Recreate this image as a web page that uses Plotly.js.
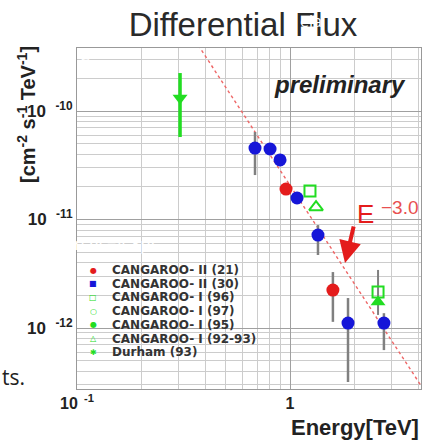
<!DOCTYPE html>
<html>
<head>
<meta charset="utf-8">
<script src="https://cdn.plot.ly/plotly-3.0.1.min.js"></script>
<style>html,body{margin:0;padding:0;background:#fff;}#chart{width:424px;height:443px;}</style>
</head>
<body>
<div id="chart"></div>
<script>
// ---- data ----
const fitE = [0.3, 5.0];
const fitF = [7.63e-10, 1.65e-13];

const c2_21_E   = [0.958, 1.59];
const c2_21_F   = [1.91e-11, 2.24e-12];
const c2_21_Fhi = [2.02e-11, 3.28e-12];
const c2_21_Flo = [1.80e-11, 1.14e-12];

const c2_30_E   = [0.685, 0.806, 0.898, 1.079, 1.353, 1.872, 2.76];
const c2_30_F   = [4.56e-11, 4.47e-11, 3.54e-11, 1.58e-11, 7.19e-12, 1.11e-12, 1.11e-12];
const c2_30_Fhi = [6.40e-11, 4.70e-11, 3.70e-11, 1.65e-11, 8.89e-12, 1.89e-12, 1.37e-12];
const c2_30_Flo = [2.57e-11, 4.25e-11, 3.38e-11, 1.50e-11, 4.71e-12, 3.18e-13, 6.26e-13];

const c1_96_E = [1.241];  const c1_96_F = [1.83e-11];
const c1_97_E = [2.59];   const c1_97_F = [2.15e-12];
const c1_95_E = [2.59];   const c1_95_F = [1.74e-12];
const c1_95_Fhi = [3.43e-12]; const c1_95_Flo = [1.32e-12];
const c1_9293_E = [1.325]; const c1_9293_F = [1.30e-11];

const durham_E = [0.3046];
const durham_F = [1.32e-10];
const durham_Fhi = [2.24e-10];
const durham_Flo = [5.76e-11];

const legendLabels = ["CANGAROO- II (21)", "CANGAROO- II (30)", "CANGAROO- I (96)", "CANGAROO- I (97)", "CANGAROO- I (95)", "CANGAROO- I (92-93)", "Durham (93)"];
const legendGlyphs = ["\u25CF", "\u25A0", "\u25A1", "\u25CB", "\u25CF", "\u25B3", "\u2731"];

const xTickVals = [0.1, 1];
const xTickText = ["<b>10</b><sup><b>  -1</b></sup>", "<b>1</b>"];
const yTickVals = [1e-12, 1e-11, 1e-10];
const yTickText = ["<b>10  </b><sup><b>-12</b></sup>", "<b>10  </b><sup><b>-11</b></sup>", "<b>10  </b><sup><b>-10</b></sup>"];

// ---- styles ----
const RED = "#e41c1c", BLUE = "#1616d8", GREEN = "#22dd22", ERR = "#808080";
const legendColors = [RED, BLUE, GREEN, GREEN, GREEN, GREEN, GREEN];
const FONT = "Liberation Sans, Arial, sans-serif";

function up(v, hi){ return hi.map((h,i)=>h - v[i]); }
function dn(v, lo){ return lo.map((l,i)=>v[i] - l); }

const traces = [
  {x: fitE, y: fitF, mode: "lines", line: {color: "#e66", width: 1.4, dash: "dot"}, name: "E^-3.0", hoverinfo: "skip"},
  {x: durham_E, y: durham_F, mode: "markers", name: "Durham (93)",
   marker: {symbol: "triangle-down", size: 13, color: GREEN},
   error_y: {type: "data", symmetric: false, array: up(durham_F, durham_Fhi), arrayminus: dn(durham_F, durham_Flo), color: GREEN, thickness: 3.5, width: 0}},
  {x: c2_30_E, y: c2_30_F, mode: "markers", name: "CANGAROO- II (30)",
   marker: {symbol: "circle", size: 13, color: BLUE},
   error_y: {type: "data", symmetric: false, array: up(c2_30_F, c2_30_Fhi), arrayminus: dn(c2_30_F, c2_30_Flo), color: ERR, thickness: 2.5, width: 0}},
  {x: c2_21_E, y: c2_21_F, mode: "markers", name: "CANGAROO- II (21)",
   marker: {symbol: "circle", size: 13, color: RED},
   error_y: {type: "data", symmetric: false, array: up(c2_21_F, c2_21_Fhi), arrayminus: dn(c2_21_F, c2_21_Flo), color: ERR, thickness: 2.5, width: 0}},
  {x: c1_96_E, y: c1_96_F, mode: "markers", name: "CANGAROO- I (96)",
   marker: {symbol: "square-open", size: 11, color: GREEN, line: {width: 2}}},
  {x: c1_9293_E, y: c1_9293_F, mode: "markers", name: "CANGAROO- I (92-93)",
   marker: {symbol: "triangle-up-open", size: 12, color: GREEN, line: {width: 2}}},
  {x: c1_95_E, y: c1_95_F, mode: "markers", name: "CANGAROO- I (95)",
   marker: {symbol: "triangle-up", size: 13, color: GREEN},
   error_y: {type: "data", symmetric: false, array: up(c1_95_F, c1_95_Fhi), arrayminus: dn(c1_95_F, c1_95_Flo), color: ERR, thickness: 2, width: 0}},
  {x: c1_97_E, y: c1_97_F, mode: "markers", name: "CANGAROO- I (97)",
   marker: {symbol: "square-open", size: 11, color: GREEN, line: {width: 2}}}
];

// plot area in pixels: left 77, right 421, top 48, bottom 389
const L = 77, R = 421, T = 48, B = 389;
function px(x){ return (x - L) / (R - L); }
function py(y){ return (B - y) / (B - T); }

const annotations = [];
legendLabels.forEach((lab, i) => {
  const yy = 270 + i * 13.7;
  annotations.push({xref: "paper", yref: "paper", x: px(93), y: py(yy), text: legendGlyphs[i], showarrow: false,
    font: {family: "DejaVu Sans", size: 8, color: legendColors[i]}, xanchor: "center", yanchor: "middle"});
  annotations.push({xref: "paper", yref: "paper", x: px(110), y: py(yy), text: "<b>" + lab + "</b>", showarrow: false,
    font: {family: "DejaVu Sans", size: 12, color: "#333"}, xanchor: "left", yanchor: "middle"});
});

annotations.push(
  {xref: "paper", yref: "paper", x: px(340), y: py(84), text: "<b><i>preliminary</i></b>", showarrow: false,
   font: {family: FONT, size: 24, color: "#222"}, xanchor: "center", yanchor: "middle"},
  {xref: "paper", yref: "paper", x: px(365), y: py(214), text: "E", showarrow: false,
   font: {family: FONT, size: 26, color: RED}, xanchor: "center", yanchor: "middle"},
  {xref: "paper", yref: "paper", x: px(400), y: py(207), text: "\u22123.0", showarrow: false,
   font: {family: FONT, size: 19, color: "#e85050"}, xanchor: "center", yanchor: "middle"},
  {xref: "paper", yref: "paper", x: px(345), y: py(263), ax: px(354), ay: py(225), axref: "paper", ayref: "paper",
   text: "", showarrow: true, arrowhead: 2, arrowsize: 1.1, arrowwidth: 4, arrowcolor: RED},
  {xref: "paper", yref: "paper", x: px(26), y: py(114), text: "<b>[cm<sup>-2</sup> s<sup>-1</sup> TeV<sup>-1</sup>]</b>", textangle: -90, showarrow: false,
   font: {family: FONT, size: 20, color: "#222"}, xanchor: "center", yanchor: "middle"},
  {xref: "paper", yref: "paper", x: px(421), y: py(428), text: "<b>Energy[TeV]</b>", showarrow: false,
   font: {family: FONT, size: 22, color: "#222"}, xanchor: "right", yanchor: "middle"},
  {xref: "paper", yref: "paper", x: px(0), y: py(377), text: "ts.", showarrow: false,
   font: {family: "Open Sans", size: 21, color: "#222"}, xanchor: "left", yanchor: "middle"},
  {xref: "paper", yref: "paper", x: px(72), y: py(244), text: "rsec=4.3pc", showarrow: false,
   font: {family: "Open Sans", size: 17, color: "#ffffff"}, xanchor: "left", yanchor: "middle"},
  {xref: "paper", yref: "paper", x: px(303), y: py(53), text: "Vela", showarrow: false,
   font: {family: "Open Sans", size: 15, color: "#ffffff"}, xanchor: "left", yanchor: "middle"},
  {xref: "paper", yref: "paper", x: px(298), y: py(21), text: "ela", showarrow: false,
   font: {family: "Open Sans", size: 16, color: "#ffffff"}, xanchor: "left", yanchor: "middle"},
  {xref: "paper", yref: "paper", x: px(77), y: py(64), text: "Gre", showarrow: false,
   font: {family: "Open Sans", size: 16, color: "#ffffff"}, xanchor: "left", yanchor: "middle"}
);

const layout = {
  width: 424, height: 443,
  margin: {l: L, r: 424 - R, t: T, b: 443 - B, pad: 0},
  paper_bgcolor: "#fff", plot_bgcolor: "#fff",
  showlegend: false,
  title: {text: "Differential Flux", x: 243 / 424, xanchor: "center", y: 1 - 24 / 443, yanchor: "middle", yref: "container",
    font: {family: FONT, size: 33, color: "#2a2a2a"}},
  xaxis: {type: "log", range: [-1, 0.615], tickvals: xTickVals, ticktext: xTickText, ticks: "",
    tickfont: {family: FONT, size: 16, color: "#222"},
    showgrid: true, gridcolor: "#a0a0a0", gridwidth: 1,
    minor: {dtick: "D1", showgrid: true, gridcolor: "#cccccc", gridwidth: 1, ticks: ""},
    showline: true, linecolor: "#999", linewidth: 1, mirror: true, zeroline: false},
  yaxis: {type: "log", range: [-12.562, -9.419], tickvals: yTickVals, ticktext: yTickText, ticks: "",
    tickfont: {family: FONT, size: 17, color: "#222"},
    showgrid: true, gridcolor: "#a0a0a0", gridwidth: 1,
    minor: {dtick: "D1", showgrid: true, gridcolor: "#cccccc", gridwidth: 1, ticks: ""},
    showline: true, linecolor: "#999", linewidth: 1, mirror: true, zeroline: false},
  annotations: annotations
};

Plotly.newPlot("chart", traces, layout, {staticPlot: true, displayModeBar: false});
</script>
</body>
</html>
